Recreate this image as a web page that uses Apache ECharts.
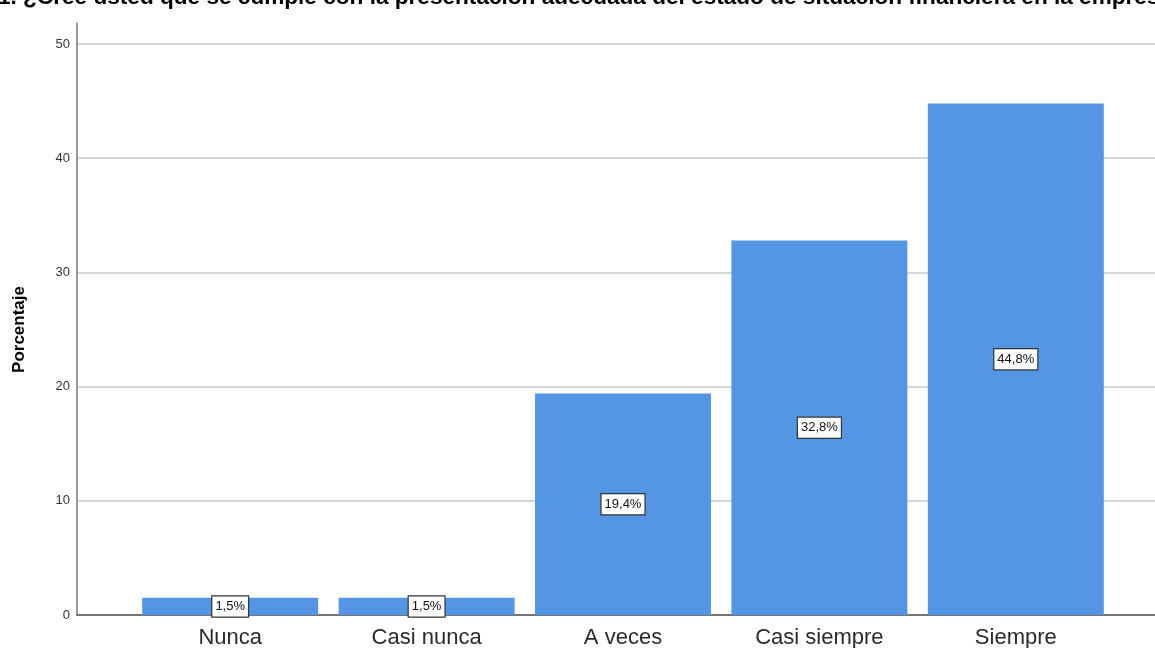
<!DOCTYPE html>
<html>
<head>
<meta charset="utf-8">
<script src="https://cdn.jsdelivr.net/npm/echarts@6/dist/echarts.min.js"></script>
<style>
  html, body { margin: 0; padding: 0; background: #fff; }
  #chart { width: 1155px; height: 648px; }
</style>
</head>
<body>
<div id="chart"></div>
<script>
// Response categories and percentage of answers for each
const categories = ['Nunca', 'Casi nunca', 'A veces', 'Casi siempre', 'Siempre'];
const percentages = [1.5, 1.5, 19.4, 32.8, 44.8];
const titleText = '1. ¿Cree usted que se cumple con la presentación adecuada del estado de situación financiera en la empresa';
const axisName = 'Porcentaje';

const FONT = '"Liberation Sans", Arial, sans-serif';
const chart = echarts.init(document.getElementById('chart'), null, { renderer: 'canvas' });

chart.setOption({
  animation: false,
  backgroundColor: '#ffffff',
  title: {
    text: titleText,
    left: -2,
    top: -14,
    padding: 0,
    textStyle: { fontFamily: FONT, fontSize: 22.6, fontWeight: 'bold', color: '#000' }
  },
  grid: [
    // frame: vertical axis line rising above the top gridline
    { left: 77, right: 0, top: 23, bottom: 33, outerBoundsMode: 'none' },
    // value scale with gridlines
    { left: 77, right: 0, top: 44, bottom: 33, outerBoundsMode: 'none' },
    // bars
    { left: 132, right: 41, top: 44, bottom: 33, outerBoundsMode: 'none' }
  ],
  xAxis: [
    { gridIndex: 0, type: 'value', show: false },
    {
      gridIndex: 1, type: 'value', min: 0, max: 1,
      axisLine: { show: true, lineStyle: { color: '#555', width: 1.5 } },
      axisTick: { show: false }, axisLabel: { show: false }, splitLine: { show: false }
    },
    {
      gridIndex: 2, type: 'category', data: categories,
      axisLine: { show: false }, axisTick: { show: false },
      axisLabel: { fontFamily: FONT, fontSize: 22, color: '#2a2a2a', margin: 12 }
    }
  ],
  yAxis: [
    {
      gridIndex: 0, type: 'value', min: 0, max: 1,
      axisLine: { show: true, lineStyle: { color: '#777', width: 1.5 } },
      axisTick: { show: false }, axisLabel: { show: false }, splitLine: { show: false }
    },
    {
      gridIndex: 1, type: 'value', min: 0, max: 50, interval: 10,
      axisLine: { show: false }, axisTick: { show: false },
      axisLabel: { fontFamily: FONT, fontSize: 13, color: '#333', margin: 7 },
      splitLine: { show: true, lineStyle: { color: '#c8c8c8', width: 1.5 } },
      name: axisName, nameLocation: 'middle', nameGap: 49,
      nameTextStyle: { fontFamily: FONT, fontSize: 17, fontWeight: 'bold', color: '#000' }
    },
    { gridIndex: 2, type: 'value', min: 0, max: 50, show: false }
  ],
  series: [{
    type: 'bar',
    xAxisIndex: 2,
    yAxisIndex: 2,
    data: percentages,
    barCategoryGap: '10.4%',
    itemStyle: { color: '#5596e4' },
    label: {
      show: true,
      position: 'inside',
      formatter: p => String(p.value).replace('.', ',') + '%',
      fontFamily: FONT,
      fontSize: 13,
      color: '#111',
      backgroundColor: '#ffffff',
      borderColor: '#333',
      borderWidth: 1.2,
      padding: [4, 3, 3, 3]
    }
  }]
});
</script>
</body>
</html>
